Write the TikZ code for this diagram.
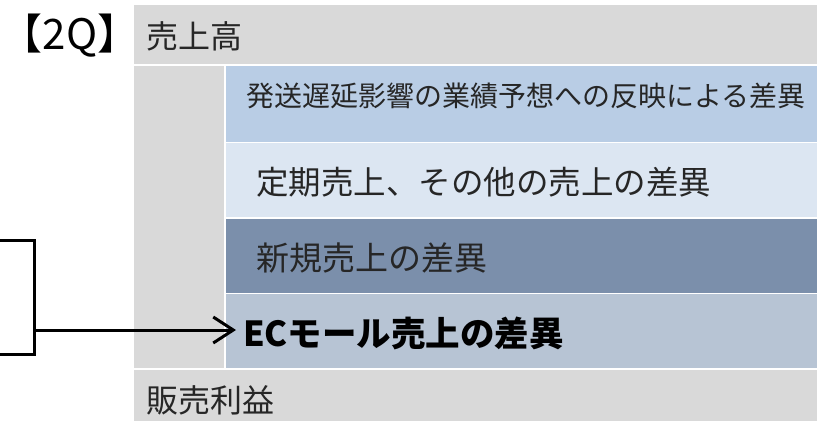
\documentclass[tikz,border=0pt]{standalone}
\usepackage{fontspec}
\setmainfont{Noto Sans CJK JP}
\usetikzlibrary{arrows.meta}
\definecolor{bggray}{HTML}{D9D9D9}
\definecolor{rowa}{HTML}{B9CDE5}
\definecolor{rowb}{HTML}{DCE6F2}
\definecolor{rowc}{HTML}{7B8FAB}
\definecolor{rowd}{HTML}{B7C4D4}
\definecolor{txtgray}{HTML}{262626}
\tikzset{
  lbl/.style={anchor=west,inner sep=0pt,text=txtgray},
}

\begin{document}
\begin{tikzpicture}[x=1pt,y=-1pt]
          \useasboundingbox (0,0) rectangle (817,421);
          \fill[bggray] (134,5) rectangle (817,64);
          \fill[bggray] (134,66) rectangle (223.5,368);
          \fill[bggray] (134,370) rectangle (817,421);
          \fill[rowa] (225.5,66) rectangle (817,141.5);
          \fill[rowb] (225.5,143) rectangle (817,217);
          \fill[rowc] (225.5,218.5) rectangle (817,292.5);
          \fill[rowd] (225.5,294) rectangle (817,368);
          \node[lbl,text=black,font=\fontsize{42}{46}\selectfont] (q2) at (0.5,36) {【2Q】};
          \node[lbl,font=\fontsize{32}{36}\selectfont] (sales) at (146,36.5) {売上高};
          \node[lbl,font=\fontsize{28}{32}\selectfont] (delay) at (246,96) {発送遅延影響の業績予想への反映による差異};
          \node[lbl,font=\fontsize{32.5}{36}\selectfont] (regular) at (256,182.5) {定期売上、その他の売上の差異};
          \node[lbl,font=\fontsize{33}{36}\selectfont] (newsales) at (256,257.5) {新規売上の差異};
          \node[lbl,text=black,font=\fontsize{34.5}{38}\selectfont\bfseries] (ecmall) at (243,333.5) {ECモール売上の差異};
          \node[lbl,font=\fontsize{32}{36}\selectfont] (profit) at (146,400) {販売利益};
          % bracket and arrow
          \coordinate (brk) at (34,330);
          \coordinate (tip) at (236,330);
          \draw[line width=3pt] (-5,240) -| (34,354) -- (-5,354);
          \draw[line width=3pt,-{Straight Barb[length=20pt,width=26pt]}] (brk) -- (tip);
        \end{tikzpicture}
\end{document}
